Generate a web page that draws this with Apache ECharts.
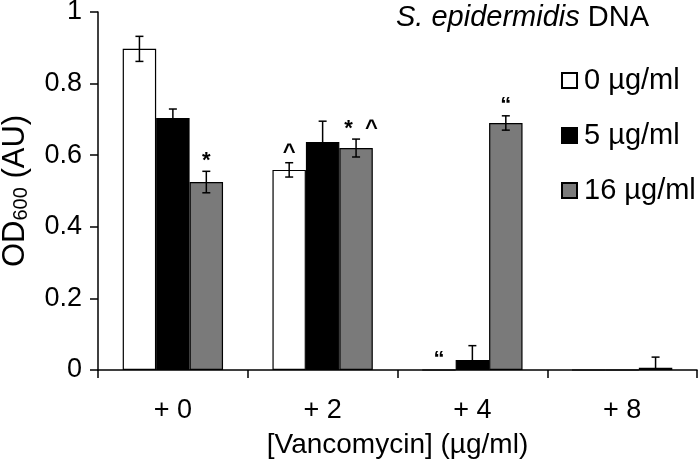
<!DOCTYPE html>
<html>
<head>
<meta charset="utf-8">
<script src="https://cdn.jsdelivr.net/npm/echarts@6/dist/echarts.min.js"></script>
<style>
  html, body { margin: 0; padding: 0; background: #fff; }
  #chart { width: 700px; height: 463px; }
</style>
</head>
<body>
<div id="chart"></div>
<script>
// 数据
var categories = ['+ 0', '+ 2', '+ 4', '+ 8'];
var seriesNames = ['0 µg/ml', '5 µg/ml', '16 µg/ml'];
var vals0 = [0.897, 0.559, 0, 0];
var vals5 = [0.704, 0.637, 0.028, 0];
var vals16 = [0.525, 0.620, 0.690, 0.006];
var err0 = [0.035, 0.02, 0, 0];
var err5 = [0.025, 0.058, 0.04, 0];
var err16 = [0.03, 0.025, 0.02, 0.03];
var notes0 = ['', '^', '\u201c', ''];
var notes5 = ['', '', '', ''];
var notes16 = ['*', '*  ^', '\u201c', ''];
var yTicks = [0, 0.2, 0.4, 0.6, 0.8, 1];

var FONT = '"Liberation Sans", Arial, sans-serif';
var GAP = 0.33;
var colors = ['#ffffff', '#000000', '#7a7a7a'];

var allVals = [vals0, vals5, vals16];
var allErr = [err0, err5, err16];
var allNotes = [notes0, notes5, notes16];

// 误差线 + 标注
var errData = [];
for (var s = 0; s < 3; s++) {
	for (var c = 0; c < categories.length; c++) {
		errData.push([c, s, allVals[s][c], allErr[s][c], allNotes[s][c]]);
	}
}

function renderErr(params, api) {
	var cat = api.value(0), s = api.value(1), v = api.value(2), e = api.value(3);
	var note = errData[params.dataIndex][4];
	var band = api.size([1, 0])[0];
	var barW = band * (1 - GAP) / 3;
	var cx = api.coord([cat, 0])[0] + (s - 1) * barW;
	var yt = api.coord([cat, v + e])[1];
	var yb = api.coord([cat, Math.max(v - e, 0)])[1];
	var children = [];
	var st = { stroke: '#000', lineWidth: 1.5 };
	if (e > 0) {
		children.push({ type: 'line', shape: { x1: cx, y1: yt, x2: cx, y2: yb }, style: st });
		children.push({ type: 'line', shape: { x1: cx - 4, y1: yt, x2: cx + 4, y2: yt }, style: st });
		if (v - e > 0) {
			children.push({ type: 'line', shape: { x1: cx - 4, y1: yb, x2: cx + 4, y2: yb }, style: st });
		}
	}
	if (note) {
		var dx = note.length > 1 ? 5 : 0;
		children.push({
			type: 'text',
			style: {
				text: note, x: cx + dx, y: yt + 1,
				align: 'center', verticalAlign: 'bottom',
				font: 'bold 22px ' + FONT, fill: '#000'
			}
		});
	}
	return { type: 'group', children: children };
}

var chart = echarts.init(document.getElementById('chart'));

var series = seriesNames.map(function (n, i) {
	return {
		name: n,
		type: 'bar',
		data: allVals[i],
		barGap: '0%',
		barCategoryGap: (GAP * 100) + '%',
		itemStyle: { color: colors[i], borderColor: '#000', borderWidth: 1.2 },
		emphasis: { disabled: true },
		animation: false
	};
});
series.push({
	type: 'custom',
	renderItem: renderErr,
	data: errData,
	z: 10,
	animation: false,
	silent: true
});

chart.setOption({
	backgroundColor: '#fff',
	animation: false,
	textStyle: { fontFamily: FONT },
	title: {
		text: '{i|S. epidermidis} DNA',
		left: 391, top: -2,
		textStyle: {
			fontFamily: FONT, fontSize: 29, fontWeight: 'normal', color: '#000',
			rich: { i: { fontFamily: FONT, fontSize: 29, fontStyle: 'italic', color: '#000' } }
		}
	},
	legend: {
		data: seriesNames,
		orient: 'vertical',
		left: 556, top: 61,
		itemWidth: 15, itemHeight: 15,
		itemGap: 26,
		icon: 'rect',
		textStyle: { fontFamily: FONT, fontSize: 29, color: '#000', padding: [0, 0, 0, 2] }
	},
	grid: { left: 98, right: 3, top: 12, bottom: 93, containLabel: false, outerBoundsMode: 'none' },
	xAxis: {
		type: 'category',
		data: categories,
		name: '[Vancomycin] (µg/ml)',
		nameLocation: 'middle',
		nameGap: 61,
		nameTextStyle: { fontFamily: FONT, fontSize: 28, color: '#000' },
		axisLine: { lineStyle: { color: '#000', width: 1.5 } },
		axisTick: { show: true, length: 8, lineStyle: { color: '#000', width: 1.5 } },
		axisLabel: { fontFamily: FONT, fontSize: 27, color: '#000', margin: 27 }
	},
	yAxis: {
		type: 'value',
		min: yTicks[0], max: yTicks[yTicks.length - 1], interval: 0.2,
		name: '{a|OD}{s|600}{a| (AU)}',
		nameLocation: 'middle',
		nameGap: 67,
		nameRotate: 90,
		nameTextStyle: {
			rich: {
				a: { fontFamily: FONT, fontSize: 31, color: '#000' },
				s: { fontFamily: FONT, fontSize: 20, color: '#000', padding: [12, 0, 0, 0] }
			}
		},
		axisLine: { show: true, lineStyle: { color: '#000', width: 1.5 } },
		axisTick: { show: true, length: 8, lineStyle: { color: '#000', width: 1.5 } },
		splitLine: { show: false },
		axisLabel: { fontFamily: FONT, fontSize: 27, color: '#000', margin: 16 }
	},
	series: series
});
</script>
</body>
</html>
